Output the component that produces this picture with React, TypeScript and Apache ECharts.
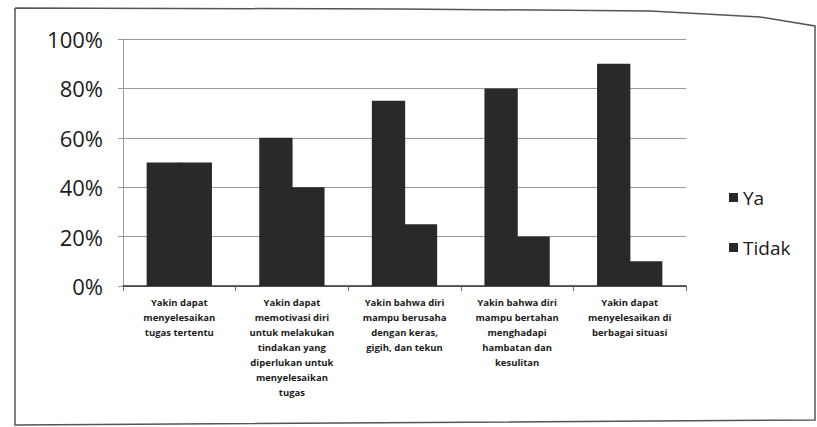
import React, { useEffect, useRef } from "react";
import * as echarts from "echarts";

const categories = [
  "Yakin dapat\nmenyelesaikan\ntugas tertentu",
  "Yakin dapat\nmemotivasi diri\nuntuk melakukan\ntindakan yang\ndiperlukan untuk\nmenyelesaikan\ntugas",
  "Yakin bahwa diri\nmampu berusaha\ndengan keras,\ngigih, dan tekun",
  "Yakin bahwa diri\nmampu bertahan\nmenghadapi\nhambatan dan\nkesulitan",
  "Yakin dapat\nmenyelesaikan di\nberbagai situasi",
];
const yaValues = [50, 60, 75, 80, 90];
const tidakValues = [50, 40, 25, 20, 10];
const seriesNames = ["Ya", "Tidak"];

export default function App() {
  const ref = useRef<HTMLDivElement>(null);
  useEffect(() => {
    document.body.style.margin = "0";
    if (!ref.current) return;
    const chart = echarts.init(ref.current, null, { renderer: "svg" });
    chart.setOption({
      animation: false,
      backgroundColor: "#ffffff",
      grid: { left: 123, right: 131, top: 39, bottom: 141, containLabel: false },
      legend: {
        orient: "vertical",
        left: 724,
        top: 180,
        itemWidth: 9,
        itemHeight: 9,
        itemGap: 25,
        icon: "rect",
        textStyle: { fontFamily: "Open Sans", fontSize: 19, color: "#1a1a1a", lineHeight: 25 },
        data: seriesNames,
      },
      xAxis: {
        type: "category",
        data: categories,
        axisLine: { show: true, lineStyle: { color: "#333", width: 1.5 } },
        axisTick: { show: true, length: 5, lineStyle: { color: "#666" } },
        axisLabel: {
          interval: 0,
          margin: 9,
          fontFamily: "Open Sans",
          fontSize: 9.5,
          fontWeight: "bold",
          lineHeight: 15,
          color: "#1a1a1a",
        },
      },
      yAxis: {
        type: "value",
        min: 0,
        max: 100,
        interval: 20,
        axisLine: { show: true, lineStyle: { color: "#999", width: 1 } },
        axisTick: { show: true, length: 5, lineStyle: { color: "#999" } },
        splitLine: { show: true, lineStyle: { color: "#9a9a9a", width: 1 } },
        axisLabel: {
          formatter: "{value}%",
          margin: 20,
          fontFamily: "Open Sans",
          fontSize: 22,
          fontWeight: 500,
          color: "#1a1a1a",
        },
      },
      series: [
        {
          name: seriesNames[0],
          type: "bar",
          data: yaValues,
          barGap: "-4%",
          barCategoryGap: "42%",
          itemStyle: { color: "#292929" },
        },
        {
          name: seriesNames[1],
          type: "bar",
          data: tidakValues,
          itemStyle: { color: "#292929" },
        },
      ],
      graphic: [
        {
          type: "polyline",
          shape: { points: [[15, 8], [400, 9], [650, 11], [760, 17], [815, 26], [815, 420], [15, 425], [15, 8]] },
          style: { stroke: "#555", lineWidth: 1.5, fill: "none" },
          silent: true,
        },
      ],
    });
    return () => chart.dispose();
  }, []);
  return <div ref={ref} style={{ width: 817, height: 427 }} />;
}
